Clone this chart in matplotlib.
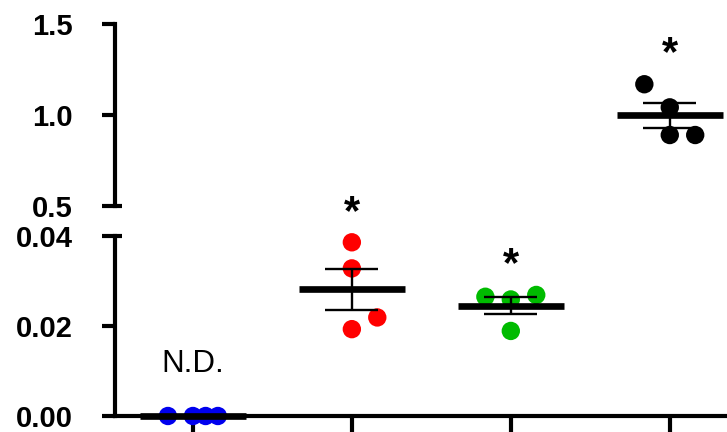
import matplotlib
matplotlib.use("Agg")
import matplotlib.pyplot as plt
import numpy as np

plt.rcParams['font.family'] = ['Liberation Sans', 'DejaVu Sans']

# values (4 replicates per group)
groups = [1, 2, 3, 4]
colors = ['#0000ee', '#ff0000', '#00bb00', '#000000']
blue_vals = [0.0, 0.0, 0.0, 0.0]
red_vals = [0.0386, 0.0328, 0.0219, 0.0193]
green_vals = [0.0265, 0.0259, 0.0269, 0.0189]
black_vals = [1.169, 1.042, 0.890, 0.890]
# horizontal jitter of the dots, as drawn
blue_dx = [-0.157, 0.0, 0.08, 0.157]
red_dx = [0.0, 0.0, 0.16, 0.0]
green_dx = [-0.16, 0.0, 0.16, 0.0]
black_dx = [-0.16, 0.0, 0.0, 0.16]
labels_above = ['N.D.', '*', '*', '*']

all_vals = [blue_vals, red_vals, green_vals, black_vals]
all_dx = [blue_dx, red_dx, green_dx, black_dx]

W, H = 727, 432
fig = plt.figure(figsize=(W / 100, H / 100), dpi=100)
left = 115 / W
width = 1 - left
ax_top = fig.add_axes([left, (H - 206) / H, width, (206 - 24) / H])
ax_bot = fig.add_axes([left, (H - 416) / H, width, (416 - 236) / H])

lw_axis = 3.0
for ax in (ax_top, ax_bot):
    ax.set_xlim(0.51, 4.36)
    for s in ['top', 'right']:
        ax.spines[s].set_visible(False)
    ax.spines['left'].set_linewidth(lw_axis)
    ax.spines['bottom'].set_linewidth(lw_axis)
    ax.tick_params(axis='y', length=9.5, width=lw_axis, pad=21, labelsize=21)
    ax.patch.set_alpha(0)

ax_top.spines['bottom'].set_visible(False)
ax_top.set_xticks([])
ax_top.set_ylim(0.5, 1.5)
ax_top.set_yticks([0.5, 1.0, 1.5])
ax_top.set_yticklabels(['0.5', '1.0', '1.5'], fontweight='bold')

ax_bot.set_ylim(0, 0.04)
ax_bot.set_yticks([0.0, 0.02, 0.04])
ax_bot.set_yticklabels(['0.00', '0.02', '0.04'], fontweight='bold')
ax_bot.set_xticks(groups)
ax_bot.set_xticklabels([])
ax_bot.tick_params(axis='x', length=12, width=lw_axis)

# little break marks poking inside the axis
ext = 7 / (W - 115)
ax_top.plot([0, ext], [0.5, 0.5], transform=ax_top.get_yaxis_transform(),
            color='black', lw=lw_axis, clip_on=False, solid_capstyle='butt')
ax_bot.plot([0, ext], [0.04, 0.04], transform=ax_bot.get_yaxis_transform(),
            color='black', lw=lw_axis, clip_on=False, solid_capstyle='butt')

for i, (g, vals, dx, c) in enumerate(zip(groups, all_vals, all_dx, colors)):
    ax = ax_top if i == 3 else ax_bot
    vals = np.array(vals)
    xs = g + np.array(dx)
    ax.scatter(xs, vals, s=175, color=c, edgecolors='none', zorder=2, clip_on=False)
    m = vals.mean()
    sem = vals.std(ddof=1) / np.sqrt(len(vals))
    ax.hlines(m, g - 0.333, g + 0.333, color='black', lw=4.8, zorder=3, clip_on=False)
    if sem > 0:
        ax.vlines(g, m - sem, m + sem, color='black', lw=1.7, zorder=3)
        ax.hlines([m - sem, m + sem], g - 0.167, g + 0.167, color='black', lw=1.7, zorder=3)

# significance marks / not-detected label
ax_bot.text(1, 0.0097, labels_above[0], ha='center', va='baseline', fontsize=22.5)
star_kw = dict(ha='center', va='center', fontsize=30, fontweight='bold', clip_on=False)
ax_bot.text(2, 0.0452, labels_above[1], **star_kw)
ax_bot.text(3, 0.0335, labels_above[2], **star_kw)
ax_top.text(4, 1.335, labels_above[3], **star_kw)

fig.savefig("out.png", dpi=100)
